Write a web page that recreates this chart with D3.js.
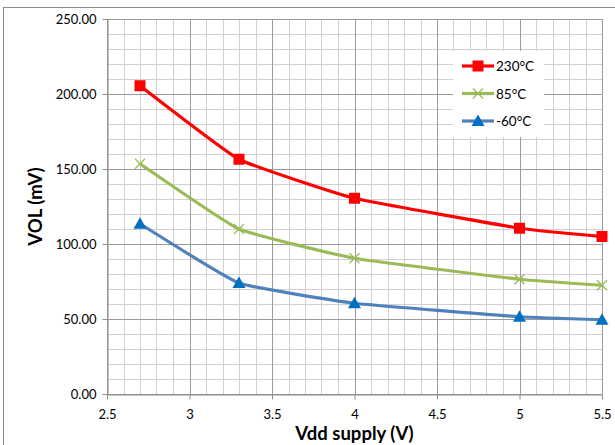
<!DOCTYPE html>
<html>
<head>
<meta charset="utf-8">
<script src="https://cdn.jsdelivr.net/npm/d3@7"></script>
<style>
  body { margin: 0; background: #fff; }
  text { font-family: Lato, "Open Sans", sans-serif; }
</style>
</head>
<body>
<div id="chart"></div>
<script>
// data
var vdd = [2.7, 3.3, 4, 5, 5.5];
var vol230 = [205.5, 156.5, 130.5, 110.5, 105];
var vol85 = [153.5, 110, 90.5, 76.5, 72.5];
var volMinus60 = [113.5, 74, 60.5, 51.5, 49.5];
var seriesNames = ["230°C", "85°C", "-60°C"];
var xTicks = [2.5, 3, 3.5, 4, 4.5, 5, 5.5];
var yTicks = [0, 50, 100, 150, 200, 250];

var W = 615, H = 445;
var margin = {top: 19, right: 13, bottom: 51, left: 107},
    width = W - margin.left - margin.right,
    height = H - margin.top - margin.bottom;

var svg = d3.select("#chart")
  .append("svg")
    .attr("width", W)
    .attr("height", H);

// chart area border
svg.append("rect")
  .attr("x", 3.5).attr("y", 7.5)
  .attr("width", W + 10).attr("height", H + 10)
  .attr("fill", "#fff")
  .attr("stroke", "#8c8c8c")
  .attr("stroke-width", 1);

var g = svg.append("g")
  .attr("transform", "translate(" + margin.left + "," + margin.top + ")");

var x = d3.scaleLinear().domain([2.5, 5.5]).range([0, width]);
var y = d3.scaleLinear().domain([0, 250]).range([height, 0]);

// minor grid
var minorX = d3.range(25, 56).map(function(d) { return d / 10; });
var minorY = d3.range(0, 251, 10);
g.append("g").selectAll("line.mx")
  .data(minorX).enter().append("line")
    .attr("x1", function(d) { return Math.round(x(d)) + 0.5; })
    .attr("x2", function(d) { return Math.round(x(d)) + 0.5; })
    .attr("y1", 0).attr("y2", height)
    .attr("stroke", "#d0d0d0");
g.append("g").selectAll("line.my")
  .data(minorY).enter().append("line")
    .attr("y1", function(d) { return Math.round(y(d)) + 0.5; })
    .attr("y2", function(d) { return Math.round(y(d)) + 0.5; })
    .attr("x1", 0).attr("x2", width)
    .attr("stroke", "#d0d0d0");

// major grid
g.append("g").selectAll("line")
  .data(xTicks).enter().append("line")
    .attr("x1", function(d) { return Math.round(x(d)) + 0.5; })
    .attr("x2", function(d) { return Math.round(x(d)) + 0.5; })
    .attr("y1", 0).attr("y2", height)
    .attr("stroke", "#9a9a9a");
g.append("g").selectAll("line")
  .data(yTicks).enter().append("line")
    .attr("y1", function(d) { return Math.round(y(d)) + 0.5; })
    .attr("y2", function(d) { return Math.round(y(d)) + 0.5; })
    .attr("x1", 0).attr("x2", width)
    .attr("stroke", "#9a9a9a");

// axes
var xAxis = g.append("g")
  .attr("transform", "translate(0," + (Math.round(height) + 0.5) + ")")
  .call(d3.axisBottom(x).tickValues(xTicks).tickSize(5).tickSizeOuter(0)
    .tickFormat(function(d) { return d; }));
var yAxis = g.append("g")
  .attr("transform", "translate(0.5,0)")
  .call(d3.axisLeft(y).tickValues(yTicks).tickSize(5).tickSizeOuter(0)
    .tickFormat(d3.format(".2f")));
[xAxis, yAxis].forEach(function(a) {
  a.selectAll("path, line").attr("stroke", "#8c8c8c");
  a.selectAll("text").attr("fill", "#000")
    .style("font-size", "13px")
    .style("font-family", "Lato, 'Open Sans', sans-serif");
});
xAxis.selectAll("text").attr("dy", "1.25em");
yAxis.selectAll("text").attr("x", -11);

// axis titles
svg.append("text")
  .attr("x", margin.left + width / 2)
  .attr("y", 440)
  .attr("text-anchor", "middle")
  .style("font-size", "18.5px").style("font-weight", "bold")
  .text("Vdd supply (V)");
svg.append("text")
  .attr("transform", "translate(42," + (margin.top + height / 2) + ") rotate(-90)")
  .attr("text-anchor", "middle")
  .style("font-size", "18.5px").style("font-weight", "bold")
  .text("VOL (mV)");

// series
var series = [
  {name: seriesNames[0], values: vol230, line: "#ff0000", mark: "#ff0000", shape: "square"},
  {name: seriesNames[1], values: vol85, line: "#9bbb59", mark: "#9bbb59", shape: "x"},
  {name: seriesNames[2], values: volMinus60, line: "#4f81bd", mark: "#0070c0", shape: "triangle"}
];

var line = d3.line()
  .x(function(d) { return x(d[0]); })
  .y(function(d) { return y(d[1]); })
  .curve(d3.curveCardinal.tension(0.65));

function drawMarker(sel, s, cx, cy) {
  if (s.shape === "square") {
    sel.append("rect")
      .attr("x", cx - 5.5).attr("y", cy - 5.5)
      .attr("width", 11).attr("height", 11)
      .attr("fill", s.mark);
  } else if (s.shape === "triangle") {
    sel.append("path")
      .attr("d", "M" + cx + "," + (cy - 6.5) + "L" + (cx + 6.5) + "," + (cy + 5) + "L" + (cx - 6.5) + "," + (cy + 5) + "Z")
      .attr("fill", s.mark);
  } else {
    sel.append("path")
      .attr("d", "M" + (cx - 5) + "," + (cy - 5) + "L" + (cx + 5) + "," + (cy + 5) +
                 "M" + (cx + 5) + "," + (cy - 5) + "L" + (cx - 5) + "," + (cy + 5))
      .attr("stroke", s.mark).attr("stroke-width", 1.3).attr("fill", "none");
  }
}

series.forEach(function(s) {
  var pts = vdd.map(function(v, i) { return [v, s.values[i]]; });
  g.append("path")
    .datum(pts)
    .attr("d", line)
    .attr("fill", "none")
    .attr("stroke", s.line)
    .attr("stroke-width", 3.2);
  var mg = g.append("g");
  pts.forEach(function(p) { drawMarker(mg, s, x(p[0]), y(p[1])); });
});

// legend
var lg = svg.append("g");
lg.append("rect")
  .attr("x", 453).attr("y", 51)
  .attr("width", 91).attr("height", 86)
  .attr("fill", "#fff");
series.forEach(function(s, i) {
  var ly = 66 + i * 27.5;
  lg.append("line")
    .attr("x1", 462).attr("x2", 494)
    .attr("y1", ly).attr("y2", ly)
    .attr("stroke", s.line).attr("stroke-width", 3.2);
  drawMarker(lg, s, 478, ly);
  lg.append("text")
    .attr("x", 496).attr("y", ly + 5)
    .style("font-size", "13.5px")
    .text(s.name);
});
</script>
</body>
</html>
